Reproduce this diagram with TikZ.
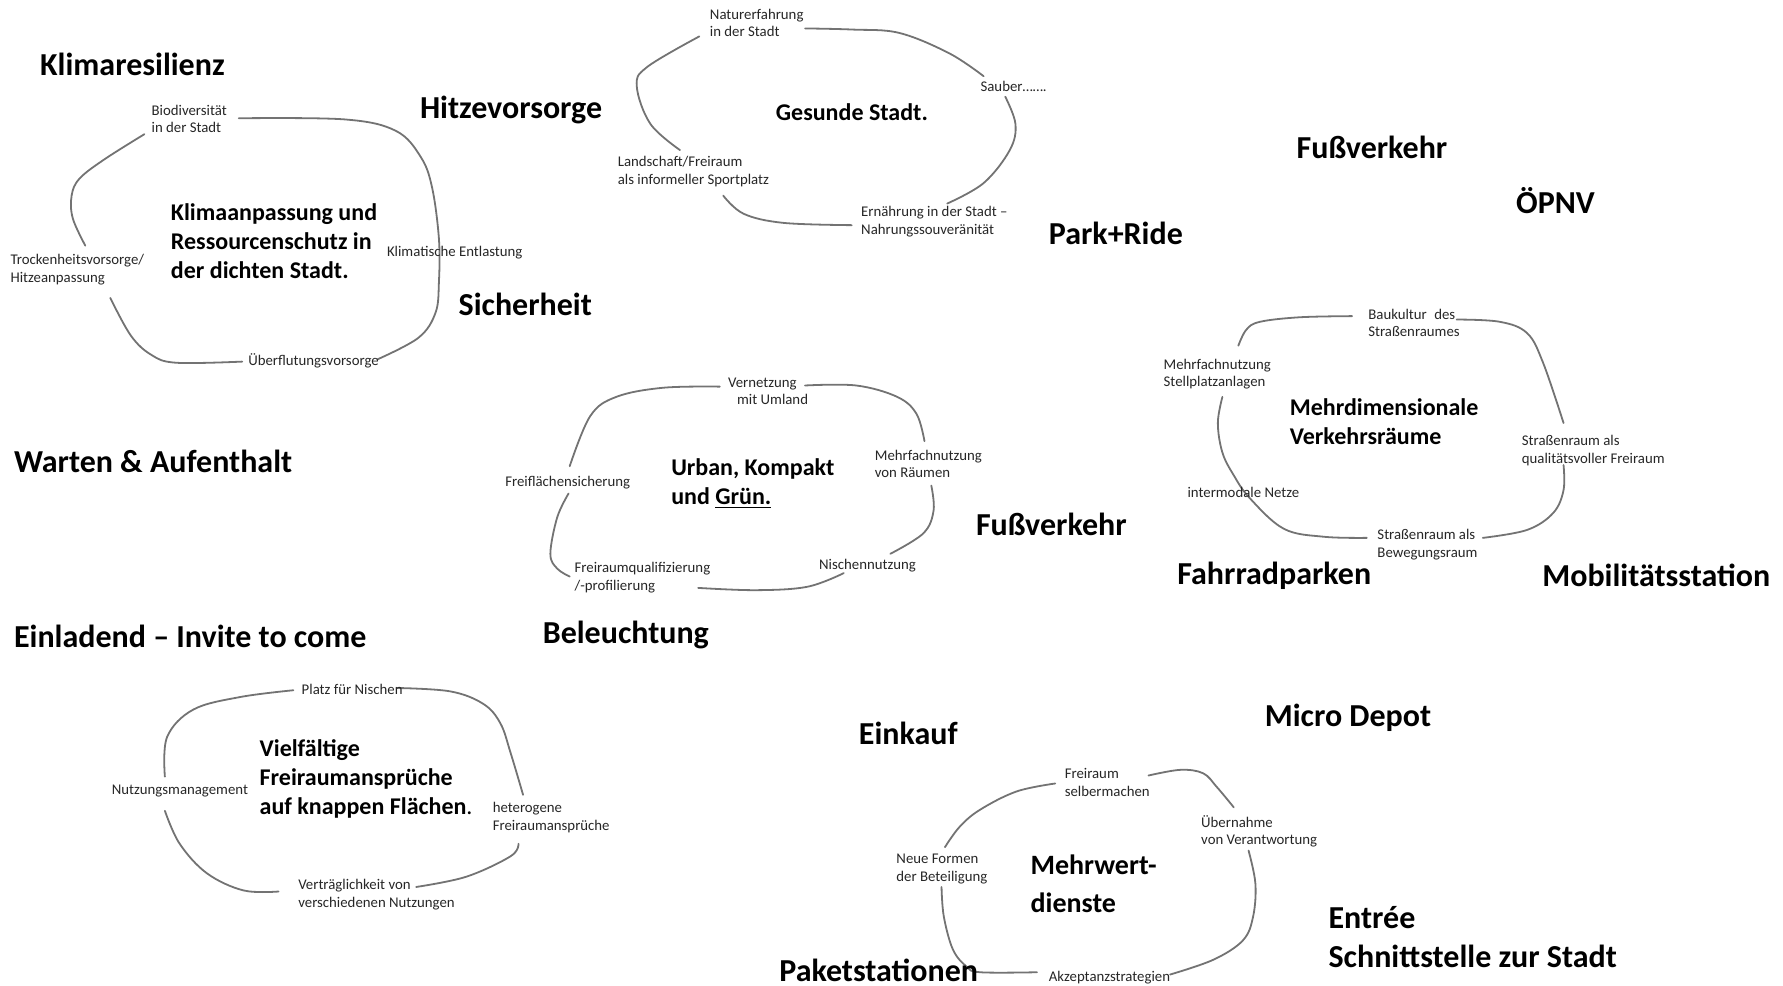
\documentclass[tikz,border=0pt]{standalone}
\usepackage{fontspec}
\setmainfont{Carlito}
\begin{document}
\begin{tikzpicture}[x=0.5686pt,y=-0.5686pt,
  big/.style={font=\fontsize{16}{19.5}\selectfont\bfseries, anchor=west, inner sep=0pt},
  core/.style={font=\fontsize{12}{14.5}\selectfont\bfseries, anchor=west, align=left, inner sep=0pt},
  coreb/.style={font=\fontsize{14}{18.8}\selectfont\bfseries, anchor=west, align=left, inner sep=0pt},
  item/.style={font=\fontsize{7.4}{8.8}\selectfont, anchor=west, align=left, inner sep=0pt, text=black!85},
  loop/.style={draw=black!55, line width=0.9pt, line cap=round}]
\useasboundingbox (0,0) rectangle (1568,867);

% ---------- free labels ----------
\node[big] (l1) at (35,57) {Klimaresilienz};
\node[big] (l2) at (369,97) {Hitzevorsorge};
\node[big] (l3) at (1140,130) {Fußverkehr};
\node[big] (l4) at (1333,176) {ÖPNV};
\node[big] (l5) at (922,205) {Park+Ride};
\node[big] (l6) at (403,268) {Sicherheit};
\node[big] (l7) at (12,406) {Warten \& Aufenthalt};
\node[big] (l8) at (858,461) {Fußverkehr};
\node[big] (l9) at (1035,506) {Fahrradparken};
\node[big] (l10) at (1356,506) {Mobilitätsstation};
\node[big] (l11) at (12,560) {Einladend – Invite to come};
\node[big] (l12) at (477,558) {Beleuchtung};
\node[big] (l13) at (1112,631) {Micro Depot};
\node[big] (l14) at (755,645) {Einkauf};
\node[big] (l15) at (1168,807) {Entrée};
\node[big] (l16) at (1168,841) {Schnittstelle zur Stadt};

% ---------- cluster 1 ----------
\draw[loop] plot[smooth, tension=0.6] coordinates {(210,104) (303,105) (348,115) (370,138) (380,165) (386,210) (386,248) (383,275) (368,297) (332,316)};
\draw[loop] plot[smooth, tension=0.6] coordinates {(213,318) (155,319) (133,312) (115,295) (97,262)};
\draw[loop] plot[smooth, tension=0.6] coordinates {(75,216) (64,192) (63,172) (70,157) (92,140) (127,118)};
\node[item] (a1) at (133,104.5) {Biodiversität\\in der Stadt};
\node[core] (a0) at (150,212) {Klimaanpassung und\\Ressourcenschutz in\\der dichten Stadt.};
\node[item] (a2) at (340,222) {Klimatische Entlastung};
\node[item] (a3) at (9,237) {Trockenheitsvorsorge/\\Hitzeanpassung};
\node[item] (a4) at (218,317) {Überflutungsvorsorge};

% ---------- cluster 2 ----------
\draw[loop] plot[smooth, tension=0.6] coordinates {(708,25) (750,26) (791,29) (835,47) (865,67)};
\draw[loop] plot[smooth, tension=0.6] coordinates {(884,85) (893,109) (888,132) (865,161) (833,179)};
\draw[loop] plot[smooth, tension=0.6] coordinates {(749,198) (689,196) (654,188) (636,172)};
\draw[loop] plot[smooth, tension=0.6] coordinates {(598,132) (572,109) (560,76) (569,59) (615,32)};
\node[item] (b1) at (624,20) {Naturerfahrung\\in der Stadt};
\node[item] (b2) at (862,76) {Sauber…….};
\node[core] (b0) at (682,99) {Gesunde Stadt.};
\node[item] (b3) at (543,151) {Landschaft/Freiraum\\als informeller Sportplatz};
\node[item] (b4) at (757,195) {Ernährung in der Stadt –\\Nahrungssouveränität};

% ---------- cluster 3 ----------
\draw[loop] plot[smooth, tension=0.6] coordinates {(633,340) (583,341) (542,349) (519,366) (501,410)};
\draw[loop] plot[smooth, tension=0.6] coordinates {(708,339) (753,339) (789,349) (806,364) (813,388)};
\draw[loop] plot[smooth, tension=0.6] coordinates {(819,427) (821,449) (812,469) (783,487)};
\draw[loop] plot[smooth, tension=0.6] coordinates {(742,504) (710,516) (665,519) (614,517)};
\draw[loop] plot[smooth, tension=0.6] coordinates {(500,434) (490,455) (484,487) (490,500) (501,507)};
\node[item] (c1) at (640,344) {Vernetzung\\\hspace*{4.5pt}mit Umland};
\node[item] (c2) at (769,408) {Mehrfachnutzung\\von Räumen};
\node[item] (c3) at (444,424) {Freiflächensicherung};
\node[core] (c0) at (590,425) {Urban, Kompakt\\und \underline{Grün.}};
\node[item] (c4) at (720,497) {Nischennutzung};
\node[item] (c5) at (505,508) {Freiraumqualifizierung\\/-profilierung};

% ---------- cluster 4 ----------
\draw[loop] plot[smooth, tension=0.6] coordinates {(1189,278) (1143,279) (1108,283) (1096,290) (1089,304)};
\draw[loop] plot[smooth, tension=0.6] coordinates {(1281,281) (1319,283) (1343,293) (1357,319) (1375,372)};
\draw[loop] plot[smooth, tension=0.6] coordinates {(1375,409) (1375,431) (1366,451) (1343,466) (1304,473)};
\draw[loop] plot[smooth, tension=0.6] coordinates {(1075,349) (1071,372) (1075,398) (1085,418) (1099,438) (1129,465) (1164,472) (1202,473)};
\node[item] (d1) at (1203,284) {Baukultur\enspace des\\Straßenraumes};
\node[item] (d2) at (1023,329) {Mehrfachnutzung\\Stellplatzanlagen};
\node[core] (d0) at (1134,371) {Mehrdimensionale\\Verkehrsräume};
\node[item] (d3) at (1338,396) {Straßenraum als\\qualitätsvoller Freiraum};
\node[item] (d4) at (1044,433) {intermodale Netze};
\node[item] (d5) at (1211,479) {Straßenraum als\\Bewegungsraum};

% ---------- cluster 5 ----------
\draw[loop] plot[smooth, tension=0.6] coordinates {(258,607) (211,613) (170,624) (147,648) (145,683)};
\draw[loop] plot[smooth, tension=0.6] coordinates {(349,605) (396,608) (425,619) (440,636) (449,662) (460,699)};
\draw[loop] plot[smooth, tension=0.6] coordinates {(456,742) (449,753) (410,771) (366,780)};
\draw[loop] plot[smooth, tension=0.6] coordinates {(245,784) (214,783) (182,768) (158,742) (145,713)};
\node[item] (e1) at (265,606) {Platz für Nischen};
\node[core] (e0) at (228,685) {Vielfältige\\Freiraumansprüche\\auf knappen Flächen{\mdseries.}};
\node[item] (e2) at (98,696) {Nutzungsmanagement};
\node[item] (e3) at (433,719) {heterogene\\Freiraumansprüche};
\node[item] (e4) at (262,787) {Verträglichkeit von\\verschiedenen Nutzungen};

% ---------- cluster 6 ----------
\draw[loop] plot[smooth, tension=0.6] coordinates {(928,689) (894,696) (862,712) (844,727) (831,745)};
\draw[loop] plot[smooth, tension=0.6] coordinates {(1010,682) (1038,677) (1058,680) (1070,692) (1085,710)};
\draw[loop] plot[smooth, tension=0.6] coordinates {(1098,748) (1104,777) (1102,806) (1093,827) (1067,844) (1029,857)};
\draw[loop] plot[smooth, tension=0.6] coordinates {(828,780) (830,806) (838,835) (850,850) (862,855) (912,855)};
\node[item] (f1) at (936,688) {Freiraum\\selbermachen};
\node[item] (f2) at (1056,731) {Übernahme\\von Verantwortung};
\node[item] (f3) at (788,764) {Neue Formen\\der Beteiligung};
\node[coreb] (f0) at (906,777) {Mehrwert-\\dienste};
\node[item] (f4) at (922,860) {Akzeptanzstrategien};
\node[big] (l17) at (685,853) {Paketstationen};
\end{tikzpicture}
\end{document}
